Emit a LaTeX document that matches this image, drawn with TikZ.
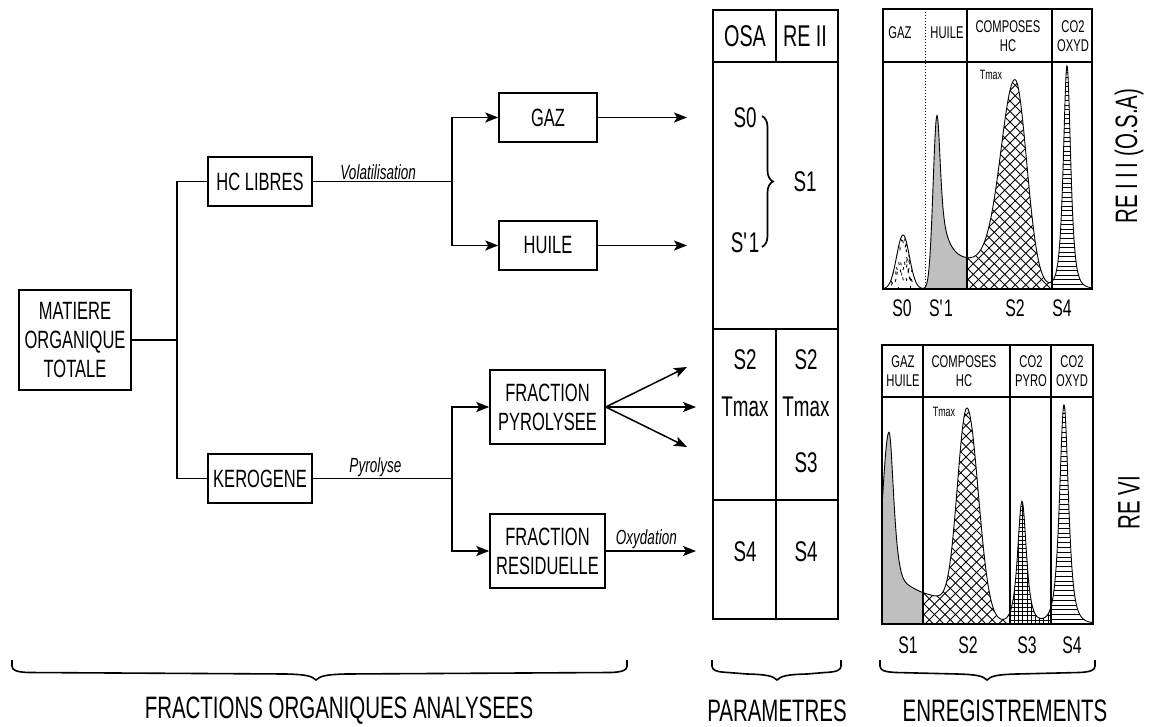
\documentclass[tikz,border=0pt]{standalone}
\usepackage{fontspec}
\setmainfont{Liberation Sans}[FakeStretch=0.66]
\usetikzlibrary{arrows.meta,decorations.pathreplacing}
\newcommand\fBox{\fontsize{25}{29}\selectfont}
\newcommand\fTab{\fontsize{28.5}{30}\selectfont}
\newcommand\fTabH{\fontsize{30}{32}\selectfont}
\newcommand\fIt{\fontsize{20.5}{22}\selectfont\itshape}
\newcommand\fHdr{\fontsize{17}{19.5}\selectfont}
\newcommand\fTmax{\fontsize{13.5}{14}\selectfont}
\newcommand\fSl{\fontsize{24}{26}\selectfont}
\newcommand\fRE{\fontsize{31}{32}\selectfont}
\newcommand\fBot{\fontsize{31}{32}\selectfont}
\newcommand\hbr[3]{% x1, x2, tip x
  \draw[line width=1.6pt] (#1,660) -- (#1,666) .. controls (#1,670) and (#1+4,672) .. (#1+16,672.5)
    -- (#3-30,674) .. controls (#3-10,674.5) and (#3-4,676) .. (#3,680)
    .. controls (#3+4,676) and (#3+10,674.5) .. (#3+30,674)
    -- (#2-16,672.5) .. controls (#2-4,672) and (#2,670) .. (#2,666) -- (#2,660);}
% crosshatch over x-range [#1,#2], base line #3
\newcommand\xhatch[3]{%
  \foreach \c in {0,...,36}{%
    \draw[hatch] ({#1-250+\c*10.5},#3) -- ++(250,-250);
    \draw[hatch] ({#1+\c*10.5},#3) -- ++(-250,-250);
  }}
\begin{document}
\begin{tikzpicture}[x=1pt,y=-1pt,
  declare function={
    gau(\t)=exp(-min((\t)*(\t),11));
    lor(\t)=1/(1+(\t)*(\t));
    lgs(\t)=1/(1+exp(-max(min(\t,9),-9)));
    htop(\u)=54*gau((\u-903)/9)+(\u<937)*172*gau((\u-937)/5.5)+(\u>=937)*172*lor((\u-937)/5)+26*lgs((\u-944)/2.5)*lgs((992-\u)/6)+(\u<1015)*208*gau((\u-1015)/21)+(\u>=1015)*208*gau((\u-1015)/16.5)+223*lor((\u-1067)/6.6)^2;
    hbot(\u)=(\u<889)*191*gau((\u-889)/10)+(\u>=889)*191*lor((\u-889)/6.5)+25*lgs((\u-903)/4)*lgs((948-\u)/5)+(\u<967)*214*gau((\u-967)/14)+(\u>=967)*214*gau((\u-967)/16)+122*lor((\u-1022)/7.9)^2+219*lor((\u-1064)/8)^2;
  },
  box/.style={draw, line width=1.5pt, inner sep=0pt, align=center, font=\fBox},
  con/.style={line width=1.5pt},
  arr/.style={line width=1.5pt, -{Stealth[length=13pt,width=10pt,inset=3pt]}},
  tab/.style={inner sep=0pt, font=\fTab},
  hdr/.style={inner sep=0pt, align=center, font=\fHdr},
  slab/.style={inner sep=0pt, font=\fSl},
  itl/.style={inner sep=1pt, font=\fIt},
  frame/.style={line width=1.5pt},
  curve/.style={line width=0.9pt},
  hatch/.style={line width=0.9pt},
  hline/.style={line width=0.6pt},
]
\useasboundingbox (0,0) rectangle (1151,727);

% ---------- flow chart ----------
\node[box, minimum width=112pt, minimum height=100pt] (mot) at (75,340) {MATIERE\\ORGANIQUE\\TOTALE};
\node[box, minimum width=104pt, minimum height=49pt] (hcl) at (260,181.5) {HC LIBRES};
\node[box, minimum width=104pt, minimum height=49pt] (ker) at (260,478.5) {KEROGENE};
\node[box, minimum width=98pt, minimum height=49pt] (gaz) at (548,117.5) {GAZ};
\node[box, minimum width=98pt, minimum height=49pt] (hui) at (548,245.5) {HUILE};
\node[box, minimum width=115pt, minimum height=74pt] (fpy) at (547.5,407) {FRACTION\\PYROLYSEE};
\node[box, minimum width=115pt, minimum height=74pt] (fre) at (547.5,551) {FRACTION\\RESIDUELLE};

\coordinate (j1) at (177,340);
\coordinate (j2) at (452,181.5);
\coordinate (j3) at (452,478.5);
\draw[con] (mot.east) -- (j1);
\draw[con] (hcl.west) -| (j1) |- (ker.west);
\draw[con] (hcl.east) -- node[itl, above, pos=0.47] {Volatilisation} (j2);
\draw[con] (ker.east) -- node[itl, above, pos=0.45] {Pyrolyse} (j3);
\draw[arr] (j2) |- (gaz.west);
\draw[arr] (j2) |- (hui.west);
\draw[arr] (j3) |- (fpy.west);
\draw[arr] (j3) |- (fre.west);

\coordinate (tg) at (687,117.5);
\coordinate (th) at (687,245.5);
\coordinate (tp1) at (687,367);
\coordinate (tp2) at (696,407);
\coordinate (tp3) at (687,447);
\coordinate (tr) at (696,551);
\draw[arr] (gaz.east) -- (tg);
\draw[arr] (hui.east) -- (th);
\draw[arr] (fpy.east) -- (tp1);
\draw[arr] (fpy.east) -- (tp2);
\draw[arr] (fpy.east) -- (tp3);
\draw[arr] (fre.east) -- node[itl, above, pos=0.45] {Oxydation} (tr);

% ---------- table ----------
\draw[frame] (713,10) rectangle (838,619);
\draw[frame] (713,62) -- (838,62);
\draw[frame] (776,10) -- (776,62);
\draw[frame] (713,329) -- (838,329);
\draw[frame] (713,500) -- (838,500);
\draw[frame] (776,329) -- (776,619);
\node[tab, font=\fTabH] (tosa) at (745,36) {OSA};
\node[tab, font=\fTabH] (tre) at (805,36) {RE II};
\node[tab] (ts0) at (745,118) {S0};
\node[tab] (ts1p) at (745,243) {S\textquotesingle 1};
\node[tab] (ts1) at (805,182) {S1};
\draw[line width=1.7pt, decorate, decoration={brace, amplitude=11pt}] (762,116) -- (762,247);
\node[tab] (ta2) at (745,360) {S2};
\node[tab] (tb2) at (806,360) {S2};
\node[tab] (tam) at (745,407) {Tmax};
\node[tab] (tbm) at (806,407) {Tmax};
\node[tab] (tb3) at (806,463) {S3};
\node[tab] (ta4) at (745,552) {S4};
\node[tab] (tb4) at (806,552) {S4};

% ---------- top chromatogram ----------
\begin{scope}
  \clip plot[domain=1052:1092, samples=160] (\x,{289-htop(\x)}) -- (1092,289) -- (1052,289) -- cycle;
  \foreach \k in {0,...,50}{\draw[hline] (1052,{289-\k*4.6}) -- (1092,{289-\k*4.6});}
\end{scope}
\begin{scope}
  \clip plot[domain=967:1052, samples=170] (\x,{289-htop(\x)}) -- (1052,289) -- (967,289) -- cycle;
  \xhatch{967}{1052}{289}
\end{scope}
\fill[gray!50]
  plot[domain=925:967, samples=120] (\x,{289-htop(\x)}) -- (967,289) -- (925,289) -- cycle;
\begin{scope}
  \clip plot[domain=883:925, samples=80] (\x,{289-htop(\x)}) -- (925,289) -- (883,289) -- cycle;
  \pgfmathsetseed{11}
  \foreach \i in {1,...,110}{
    \pgfmathsetmacro\px{883+42*rnd}
    \pgfmathsetmacro\py{232+57*rnd}
    \pgfmathsetmacro\pd{2*rnd-1}
    \draw[line width=0.85pt] (\px,\py) -- ++(\pd,3);
  }
\end{scope}
\draw[curve] plot[domain=883:1092, samples=500] (\x,{289-htop(\x)});
\draw[frame] (883,9) rectangle (1092,289);
\draw[frame] (883,62) -- (1092,62);
\draw[line width=1pt, dotted] (925,9) -- (925,289);
\draw[frame] (967,9) -- (967,289);
\draw[frame] (1052,9) -- (1052,289);
\node[hdr] (h1) at (900,33) {GAZ};
\node[hdr] (h2) at (947,33) {HUILE};
\node[hdr] (h3) at (1008,36) {COMPOSES\\HC};
\node[hdr] (h4) at (1073,36) {CO2\\OXYD};
\node[inner sep=0pt, font=\fTmax] (tm1) at (991,75) {Tmax};
\node[slab] (a1) at (902,308) {S0};
\node[slab] (a2) at (941,308) {S\textquotesingle 1};
\node[slab] (a3) at (1015,308) {S2};
\node[slab] (a4) at (1062,308) {S4};
\node[inner sep=0pt, font=\fRE, rotate=90] (re3) at (1129,156) {RE\,I\,I\,I (O.S.A)};

% ---------- bottom chromatogram ----------
\begin{scope}
  \clip plot[domain=1051:1093, samples=160] (\x,{624-hbot(\x)}) -- (1093,624) -- (1051,624) -- cycle;
  \foreach \k in {0,...,48}{\draw[hline] (1051,{624-\k*4.8}) -- (1093,{624-\k*4.8});}
\end{scope}
\begin{scope}
  \clip plot[domain=1010:1051, samples=160] (\x,{624-hbot(\x)}) -- (1051,624) -- (1010,624) -- cycle;
  \foreach \k in {0,...,32}{\draw[hline] (1010,{624-\k*4.2}) -- (1051,{624-\k*4.2});}
  \foreach \k in {0,...,10}{\draw[hline] ({1010+\k*4.2},624) -- ({1010+\k*4.2},490);}
\end{scope}
\begin{scope}
  \clip plot[domain=923:1010, samples=170] (\x,{624-hbot(\x)}) -- (1010,624) -- (923,624) -- cycle;
  \xhatch{923}{1010}{624}
\end{scope}
\fill[gray!50]
  plot[domain=882:923, samples=120] (\x,{624-hbot(\x)}) -- (923,624) -- (882,624) -- cycle;
\draw[curve] plot[domain=882:1093, samples=500] (\x,{624-hbot(\x)});
\draw[frame] (882,345) rectangle (1093,624);
\draw[frame] (882,397) -- (1093,397);
\draw[frame] (923,345) -- (923,624);
\draw[frame] (1010,345) -- (1010,624);
\draw[frame] (1051,345) -- (1051,624);
\node[hdr] (g1) at (903,371) {GAZ\\HUILE};
\node[hdr] (g2) at (964,371) {COMPOSES\\HC};
\node[hdr] (g3) at (1031,371) {CO2\\PYRO};
\node[hdr] (g4) at (1072,371) {CO2\\OXYD};
\node[inner sep=0pt, font=\fTmax] (tm2) at (944,412) {Tmax};
\node[slab] (b1) at (908,645) {S1};
\node[slab] (b2) at (968,645) {S2};
\node[slab] (b3) at (1027,645) {S3};
\node[slab] (b4) at (1072,645) {S4};
\node[inner sep=0pt, font=\fRE, rotate=90] (re6) at (1129,503) {RE VI};

% ---------- braces and captions ----------
\hbr{12}{627}{316}
\hbr{712}{841}{777}
\hbr{880}{1095}{987}
\node[inner sep=0pt, font=\fBot] (c1) at (339,711) {FRACTIONS ORGANIQUES ANALYSEES};
\node[inner sep=0pt, font=\fBot] (c2) at (777,711) {PARAMETRES};
\node[inner sep=0pt, font=\fBot] (c3) at (1005,711) {ENREGISTREMENTS};
\end{tikzpicture}
\end{document}
